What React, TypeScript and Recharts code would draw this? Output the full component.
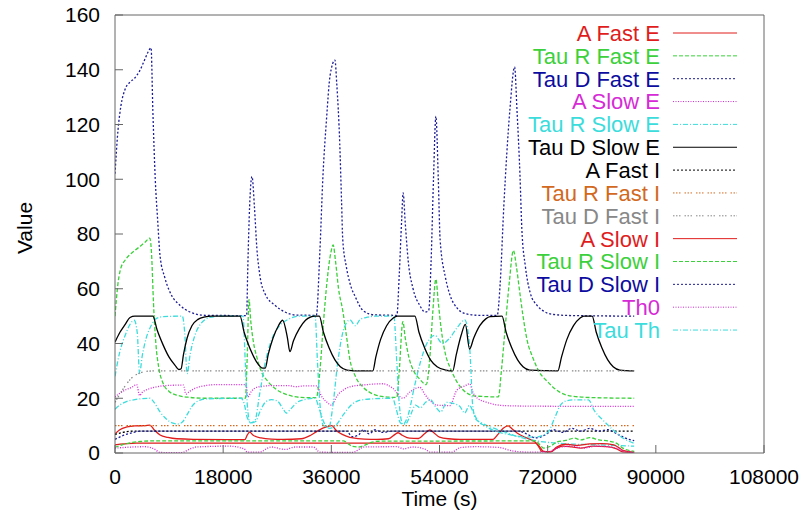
import { Label, Legend, Line, LineChart, XAxis, YAxis } from "recharts";

type Pt = [number, number];

const FONT = '"Liberation Sans", Arial, Helvetica, sans-serif';

// axis ticks (time in seconds)
const X_TICKS = [0, 18000, 36000, 54000, 72000, 90000, 108000];
const Y_TICKS = [0, 20, 40, 60, 80, 100, 120, 140, 160];

// ---- series, [time (s), value] ----
const aFastE: Pt[] = [
  [0, 7], [800, 8.5], [2000, 9.5], [3300, 9.9], [5000, 10], [5800, 10.2], [6500, 8.5], [7500, 6.6],
  [8800, 5.7], [10300, 5.2], [13000, 5], [21600, 4.9], [22000, 6.5], [22400, 7.6], [23000, 6.5],
  [24300, 5.5], [26000, 5.1], [28000, 5], [31000, 5.2], [32500, 6.4], [33800, 8.2], [35300, 9.6],
  [36100, 10], [36700, 8.5], [37400, 7.3], [38500, 6.2], [39600, 5.5], [41500, 5.1], [43600, 5],
  [45500, 5.2], [46600, 6.8], [47100, 7.4], [47800, 6.5], [49000, 5.4], [50500, 5.3], [51500, 7],
  [52400, 8.4], [53000, 7.5], [54000, 5.8], [55500, 5.2], [57400, 5], [62900, 5], [63800, 7],
  [64600, 9], [65400, 9.9], [66100, 8.8], [66900, 7.3], [68500, 5.5], [69800, 4.2], [70600, 2.5],
  [71300, 0.6], [72500, 0.4], [73500, 1.8], [74500, 2.5], [76000, 2.2], [77500, 1.8], [79500, 2.5],
  [81800, 2.3], [83500, 1.5], [84500, 0.4], [86400, 0.2],
];

const tauRFastE: Pt[] = [
  [0, 50], [500, 62], [900, 67], [1700, 70.5], [2500, 72.5], [3300, 74], [4200, 75.5], [5000, 77],
  [5800, 78.5], [6100, 72], [6400, 55], [6800, 40], [7300, 31], [8000, 25.5], [9000, 22.5],
  [10500, 21], [12500, 20.3], [15000, 20], [21700, 20], [22000, 35], [22300, 56], [22600, 48],
  [23000, 41], [23600, 35], [24300, 30], [25500, 26], [27000, 23], [28800, 21.2], [31000, 20.3],
  [33500, 20.2], [34100, 30], [34700, 48], [35300, 63], [35900, 73], [36300, 76], [36700, 70],
  [37200, 60], [37900, 52], [38500, 43], [39100, 34], [40000, 28], [41300, 24], [43000, 21.5],
  [45000, 20.5], [46900, 20.3], [47300, 30], [47900, 48], [48300, 42], [48900, 35], [49700, 30],
  [50700, 27], [51800, 25], [52400, 35], [52900, 52], [53400, 63.5], [53800, 55], [54300, 45],
  [55000, 36], [55800, 31], [56900, 26], [58200, 22.5], [60000, 20.8], [63800, 20.5], [64300, 30],
  [64900, 45], [65600, 62], [66300, 74], [66800, 68], [67400, 58], [67900, 50], [68600, 41],
  [69500, 35], [70500, 30], [72000, 26], [73800, 22.5], [76000, 20.8], [80000, 20.2], [86400, 20],
];

const tauDFastE: Pt[] = [
  [0, 102], [500, 118], [1000, 127], [1700, 133], [2500, 135.5], [3300, 137], [4200, 140],
  [5000, 144], [5500, 146.5], [6000, 148], [6300, 125], [6700, 100], [7100, 85], [7500, 72],
  [8300, 64], [9200, 58.5], [10800, 54], [12500, 51.5], [15000, 50.3], [21900, 50.2], [22100, 68],
  [22400, 90], [22800, 101], [23200, 90], [23600, 75], [24100, 65], [25000, 58], [26600, 54],
  [28300, 51.5], [30000, 50.4], [33500, 50.3], [34100, 74], [34600, 101], [35200, 122],
  [35800, 138], [36600, 143.5], [36900, 135], [37400, 113], [37700, 92], [37900, 78], [38500, 68],
  [39100, 62], [40000, 57], [41300, 52], [43000, 50.5], [46900, 50.3], [47300, 65], [47700, 85],
  [47950, 95], [48300, 84], [48800, 70], [49600, 60], [50700, 54], [51600, 51.5], [52200, 52],
  [52600, 70], [53000, 100], [53400, 123], [53800, 100], [54100, 78], [55000, 64], [55700, 58],
  [56900, 53], [58500, 50.8], [60500, 50.3], [63600, 50.3], [64100, 62], [64700, 90], [65700, 125],
  [66500, 141], [66900, 125], [67400, 101], [67700, 82], [68300, 68], [69100, 58.5], [70200, 54],
  [71200, 52], [73000, 50.6], [76000, 50.2], [86400, 50],
];

const aSlowE: Pt[] = [
  [0, 20.5], [800, 21.8], [1700, 23], [2800, 24], [3600, 25], [4100, 21], [4600, 22.3], [5500, 23.3],
  [7000, 24.2], [9000, 24.7], [11400, 24.8], [11800, 21.5], [12400, 22.5], [13300, 23.6],
  [15000, 24.6], [17000, 25], [21800, 25], [22100, 20.5], [22700, 22.5], [23600, 24], [26000, 24.6],
  [29000, 24.6], [30000, 24.2], [31500, 24.5], [33600, 24.5], [34300, 21], [35300, 18.5],
  [36000, 17.5], [37000, 21], [38000, 23], [39100, 24.2], [41000, 24.8], [42000, 25], [44500, 25.3],
  [46200, 23.7], [47900, 20], [49100, 22.3], [50700, 24], [51700, 21], [52500, 19], [53500, 17.5],
  [55700, 17.3], [56900, 23], [58200, 24.5], [59000, 25.3], [59600, 22], [60300, 20], [61500, 18.8],
  [63000, 17.8], [65000, 17.3], [70000, 17.1], [86400, 17],
];

const tauRSlowE: Pt[] = [
  [0, 28], [800, 37], [1700, 43], [2500, 47], [3200, 48.5], [3700, 44], [4100, 29], [4500, 35],
  [5200, 42], [6000, 46.5], [6800, 49], [8000, 49.8], [11200, 50], [11600, 44], [12000, 29],
  [12500, 36], [13300, 43], [14200, 47], [15800, 49.5], [17500, 50], [21300, 50], [21700, 32],
  [22000, 18], [22500, 11], [23300, 12], [24100, 22], [25000, 33], [26000, 41], [27400, 46.5],
  [28800, 48.8], [30800, 50], [33300, 50], [33700, 33], [34100, 18], [34700, 10], [35600, 9.5],
  [36300, 18], [37000, 32], [37800, 43], [38500, 47.5], [39100, 48.6], [40000, 46.5], [40800, 48.8],
  [42000, 49.6], [43300, 50], [46400, 50], [46900, 33], [47300, 18], [47900, 10.5], [48800, 14],
  [49800, 24], [50800, 33], [51900, 40], [53200, 43], [54500, 40], [55700, 42], [57000, 46],
  [58200, 48.6], [58700, 45], [59100, 36], [59500, 18], [60000, 12.5], [61000, 11], [62500, 9.5],
  [64500, 8], [67000, 6], [70000, 4.5], [74000, 3.5], [80000, 3], [86400, 2.5],
];

const tauDSlowE: Pt[] = [
  [0, 40.5], [800, 44], [1700, 47], [2500, 49.5], [3300, 50], [6300, 50], [7000, 45], [8000, 39.5],
  [9000, 35], [10000, 32], [10600, 30.5], [11000, 30.8], [11400, 36], [12000, 42], [12800, 46.5],
  [13800, 48.8], [15000, 49.7], [16000, 50], [20800, 50], [21500, 44], [22500, 38], [23500, 33.5],
  [24600, 31], [25000, 31], [25500, 36], [26300, 42], [27200, 46.5], [27900, 48.5], [28700, 42],
  [29100, 37], [29700, 41], [30700, 45.5], [31700, 48.5], [32600, 49.7], [33200, 50], [34000, 50],
  [34700, 44], [35600, 38.5], [36600, 34], [37500, 31.5], [38600, 30.3], [40000, 30], [42900, 30],
  [43400, 35], [44200, 41.5], [45200, 46.5], [46300, 49.3], [47000, 50], [49900, 50], [50600, 44],
  [51500, 38.5], [52500, 34], [53600, 31.5], [55000, 30.3], [56200, 30], [56800, 36], [57600, 43],
  [58300, 47], [59000, 38], [59700, 42], [60700, 46.5], [61700, 49], [62400, 49.8], [64400, 50],
  [65100, 44], [66000, 38.5], [67000, 34], [67900, 31.5], [69000, 30.3], [73700, 30], [74300, 35],
  [75200, 41.5], [76300, 46.5], [77400, 49.3], [78000, 50], [79400, 50], [80100, 44], [81000, 38.5],
  [82000, 34], [82900, 31.5], [84000, 30.3], [86400, 30],
];

const aFastI: Pt[] = [[0, 6.8], [1000, 7.4], [2000, 7.8], [3300, 8], [86400, 8]];

const tauRFastI: Pt[] = [[0, 10], [86400, 10]];

const tauDFastI: Pt[] = [
  [0, 18.5], [800, 21.5], [1700, 24.5], [2500, 26.8], [3300, 28.3], [4200, 29.3], [5500, 29.9],
  [7000, 30], [86400, 30],
];

const aSlowI: Pt[] = [
  [0, 3], [1500, 3.3], [3500, 3.6], [70000, 3.6], [70600, 2], [71000, 0.6], [72500, 0.5],
  [73500, 2.2], [75000, 3.2], [77000, 2.8], [79000, 3.3], [81000, 3.4], [83000, 3], [84500, 1],
  [86400, 0.3],
];

const tauRSlowI: Pt[] = [
  [0, 2], [1200, 3], [2500, 3.7], [4200, 4.2], [6000, 4.4], [38000, 4.4], [38800, 3.4],
  [39500, 2.4], [40500, 2.2], [41500, 2.8], [42500, 3.8], [44000, 4.3], [70000, 4.4], [70700, 3],
  [71300, 1.8], [72500, 2.5], [73500, 4], [75000, 4.6], [76500, 5.4], [77500, 4.8], [79000, 5.6],
  [80500, 4.8], [82000, 4.4], [83500, 3.5], [84500, 1.8], [86400, 0.6],
];

const tauDSlowI: Pt[] = [
  [0, 5], [1500, 6.5], [3000, 7.5], [4200, 8], [38500, 8], [39500, 6], [40500, 6.5], [41300, 8.5],
  [42300, 7], [43300, 8.5], [44500, 7.5], [46000, 8], [67000, 8], [68500, 7], [70000, 5.5],
  [71500, 6.5], [73000, 8.5], [74500, 7.5], [76000, 9], [77500, 8], [79000, 9], [80500, 8],
  [82000, 8.5], [83500, 7], [85500, 5], [86400, 4.5],
];

const th0: Pt[] = [
  [0, 1.8], [5000, 2.3], [6500, 1.5], [7500, 0.2], [11000, 0.1], [12500, 1.5], [13500, 2.2],
  [19000, 2.5], [21500, 1.5], [22000, 0.3], [24000, 0.3], [26000, 2.2], [28300, 1.3], [30000, 2.2],
  [33000, 2.2], [34100, 0.3], [39500, 0.2], [41500, 2.2], [47000, 2.3], [48000, 1.5], [49500, 2.2],
  [51500, 1.5], [52500, 0.3], [56000, 0.3], [57500, 2], [60000, 2.3], [64000, 2], [66000, 0.8],
  [69000, 0.3], [72000, 0.5], [74000, 2], [76000, 2.5], [78000, 1.8], [80000, 2.5], [83000, 2],
  [85000, 0.5], [86400, 0.2],
];

const tauTh: Pt[] = [
  [0, 16], [800, 17.5], [1700, 18.6], [3300, 19.5], [5800, 20], [6500, 18.5], [7500, 15],
  [8500, 12.5], [9500, 11], [10500, 10.6], [11300, 11.5], [12000, 14], [12800, 17], [13800, 19],
  [15500, 19.8], [21000, 20], [21500, 18], [22000, 13], [22700, 11], [23400, 11.5], [24100, 15],
  [25000, 18.5], [26000, 19.5], [27000, 19], [28000, 16], [28500, 14.6], [29200, 16], [30300, 18.5],
  [31500, 19.5], [33300, 20], [34000, 16], [34800, 11], [35700, 9], [36700, 10], [38000, 14],
  [39300, 17.5], [40800, 19.3], [43000, 19.8], [46200, 20], [46800, 16], [47500, 11], [48300, 10.5],
  [49200, 14], [50000, 17.5], [50800, 16.5], [51700, 18.5], [52500, 19.5], [53300, 17], [54200, 15],
  [55200, 18.5], [56500, 18], [57400, 17], [58200, 14.6], [59000, 17.5], [59600, 15], [60300, 12],
  [61500, 10], [63500, 7.8], [65500, 6.8], [67500, 6], [70000, 5.8], [72000, 7.5], [73200, 13],
  [74000, 17], [75000, 19], [76500, 19.4], [78800, 19.4], [79700, 15.7], [81200, 12], [82900, 8.4],
  [84500, 5.5], [86400, 3.5],
];

// gnuplot-like line types
const RED = "#e01c1c";
const GREEN = "#3cd03c";
const NAVY = "#1c1c96";
const MAGENTA = "#d62ad6";
const CYAN = "#3cdcdc";
const ORANGE = "#d2691e";
const GRAY = "#888888";

const DASHED = "4 2";
const DOTTED = "2 2";
const FINE = "1 1.5";
const DASHDOT = "5 2 1 2";
const SPARSE = "1.5 1.5 1.5 1.5 1.5 4";

const SERIES = [
  { name: "A Fast E", pts: aFastE, color: RED, dash: undefined, text: RED },
  { name: "Tau R Fast E", pts: tauRFastE, color: GREEN, dash: DASHED, text: GREEN },
  { name: "Tau D Fast E", pts: tauDFastE, color: NAVY, dash: DOTTED, text: "#0c0ca0" },
  { name: "A Slow E", pts: aSlowE, color: MAGENTA, dash: FINE, text: MAGENTA },
  { name: "Tau R Slow E", pts: tauRSlowE, color: CYAN, dash: DASHDOT, text: CYAN },
  { name: "Tau D Slow E", pts: tauDSlowE, color: "#000000", dash: undefined, text: "#000000" },
  { name: "A Fast I", pts: aFastI, color: "#000000", dash: DOTTED, text: "#000000" },
  { name: "Tau R Fast I", pts: tauRFastI, color: ORANGE, dash: SPARSE, text: ORANGE },
  { name: "Tau D Fast I", pts: tauDFastI, color: GRAY, dash: SPARSE, text: GRAY },
  { name: "A Slow I", pts: aSlowI, color: RED, dash: undefined, text: RED },
  { name: "Tau R Slow I", pts: tauRSlowI, color: GREEN, dash: DASHED, text: GREEN },
  { name: "Tau D Slow I", pts: tauDSlowI, color: NAVY, dash: DOTTED, text: "#0c0ca0" },
  { name: "Th0", pts: th0, color: MAGENTA, dash: FINE, text: MAGENTA },
  { name: "Tau Th", pts: tauTh, color: CYAN, dash: DASHDOT, text: CYAN },
];

const ROW_H = 22.85;
const FRAME = "#666666";
const LINE_W = 1.3;

function KeyBox() {
  return (
    <svg width={280} height={330} style={{ display: "block", overflow: "visible" }}>
      {SERIES.map((s, i) => {
        const y = 12 + i * ROW_H;
        return (
          <g key={s.name}>
            <text
              x={180}
              y={y}
              dy="0.36em"
              textAnchor="end"
              fontSize={22}
              fontFamily={FONT}
              fill={s.text}
            >
              {s.name}
            </text>
            <line x1={193} x2={257} y1={y} y2={y} stroke={s.color} strokeWidth={1} strokeDasharray={s.dash} />
          </g>
        );
      })}
    </svg>
  );
}

function ValueLabel(props: any) {
  const vb = props.viewBox;
  const x = vb.x + 24;
  const y = vb.y + vb.height / 2 - 6;
  return (
    <text
      x={x}
      y={y}
      transform={`rotate(-90 ${x} ${y})`}
      textAnchor="middle"
      dominantBaseline="central"
      fontSize={21}
      fontFamily={FONT}
      fill="#000"
    >
      Value
    </text>
  );
}

const tickStyle = { fontSize: 21, fill: "#000", fontFamily: FONT };

export default function App() {
  return (
    <div style={{ position: "absolute", left: 0, top: 0, width: 802, height: 525, background: "#fff" }}>
      <LineChart width={802} height={525} margin={{ top: 14, right: 37, bottom: 0, left: 0 }}>
        <XAxis
          type="number"
          dataKey="t"
          domain={[0, 108000]}
          ticks={X_TICKS}
          interval={0}
          height={72}
          tickSize={-8}
          tickMargin={24}
          tick={tickStyle}
          stroke={FRAME}
          allowDataOverflow
        >
          <Label
            value="Time (s)"
            position="insideBottom"
            offset={19}
            fontSize={21}
            fontFamily={FONT}
            fill="#000"
          />
        </XAxis>
        <XAxis
          xAxisId="top"
          orientation="top"
          type="number"
          domain={[0, 108000]}
          ticks={X_TICKS}
          interval={0}
          height={1}
          tickSize={-8}
          tick={false}
          stroke={FRAME}
        />
        <YAxis
          type="number"
          domain={[0, 160]}
          ticks={Y_TICKS}
          interval={0}
          width={115}
          tickSize={-8}
          tickMargin={23}
          tick={tickStyle}
          stroke={FRAME}
          allowDataOverflow
        >
          <Label content={ValueLabel} />
        </YAxis>
        <YAxis
          yAxisId="right"
          orientation="right"
          type="number"
          domain={[0, 160]}
          ticks={Y_TICKS}
          interval={0}
          width={1}
          tickSize={-8}
          tick={false}
          stroke={FRAME}
        />
        <Legend
          layout="horizontal"
          verticalAlign="middle"
          align="center"
          wrapperStyle={{ left: 480, top: 21, width: 280, height: 330 }}
          content={() => <KeyBox />}
        />
        {SERIES.map((s) => (
          <Line
            key={s.name}
            name={s.name}
            data={s.pts.map(([t, v]) => ({ t, v }))}
            dataKey="v"
            type="monotone"
            stroke={s.color}
            strokeWidth={LINE_W}
            strokeDasharray={s.dash}
            dot={false}
            activeDot={false}
            isAnimationActive={false}
            legendType="none"
          />
        ))}
      </LineChart>
    </div>
  );
}
